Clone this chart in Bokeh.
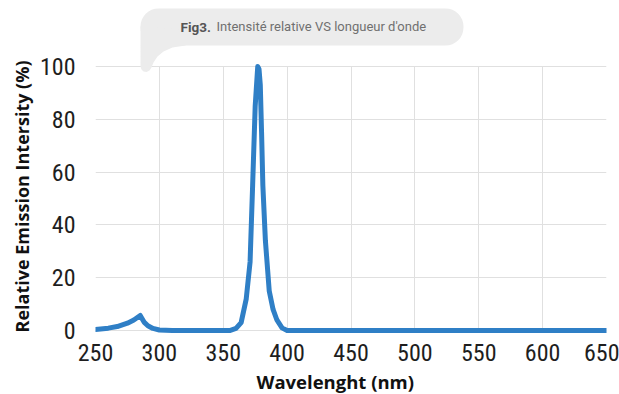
from bokeh.plotting import figure
from bokeh.models import (Range1d, FixedTicker, BoxAnnotation, PolyAnnotation, Label, Title)
from bokeh.embed import file_html
from bokeh.resources import INLINE

# Emission spectrum: wavelength (nm) and relative intensity (%)
wavelength = [250, 260, 267, 275, 280, 285, 288, 291, 295, 300, 310, 330, 355,
              360, 364, 368, 371, 373, 375, 377, 378, 379, 380, 381, 383, 386,
              389, 392, 396, 400, 450, 500, 550, 600, 650]
intensity = [0.4, 0.9, 1.5, 2.8, 4.0, 5.7, 3.2, 1.8, 0.8, 0.2, 0.0, 0.0, 0.0,
             0.8, 3.0, 12.0, 26.0, 55.0, 85.0, 100.0, 99.0, 93.0, 75.0, 55.0, 34.0, 15.0,
             8.0, 4.0, 1.0, 0.0, 0.0, 0.0, 0.0, 0.0, 0.0]

x_ticks = [250, 300, 350, 400, 450, 500, 550, 600, 650]
y_ticks = [0, 20, 40, 60, 80, 100]

title_bold = "Fig3."
title_text = "Intensité relative VS longueur d'onde"
x_label = "Wavelenght (nm)"
y_label = "Relative Emission Intersity (%)"

# The frame reaches the top of the canvas so the caption bubble can sit inside it;
# gridlines stay within 0-100 %.
p = figure(frame_width=511, frame_height=334, output_backend="svg", toolbar_location=None,
           x_range=Range1d(250, 650), y_range=Range1d(-1.5, 125),
           min_border_left=95, min_border_right=13, min_border_top=0,
           min_border_bottom=60)
p.outline_line_color = None
p.background_fill_color = "white"
p.border_fill_color = "white"

tick_font = "Roboto Condensed"
label_font = "Open Sans"

for ax, ticks in ((p.xaxis, x_ticks), (p.yaxis, y_ticks)):
    ax.ticker = FixedTicker(ticks=ticks)
    ax.axis_line_color = None
    ax.major_tick_line_color = None
    ax.minor_tick_line_color = None
    ax.major_label_text_font = tick_font
    ax.major_label_text_font_size = "24px"
    ax.major_label_text_color = "#1e1e1e"

p.xaxis.major_label_standoff = 3
p.yaxis.major_label_standoff = 14

p.xgrid.ticker = FixedTicker(ticks=x_ticks)
p.ygrid.ticker = FixedTicker(ticks=y_ticks)
p.xgrid.cross_bounds = (0, 100)
p.xgrid.grid_line_color = "#e0e0e0"
p.ygrid.grid_line_color = "#e0e0e0"

# Axis titles
p.add_layout(Title(text=x_label, align="left", offset=161, standoff=7,
                   text_font=label_font, text_font_style="bold", text_font_size="18.5px",
                   text_color="#111111"), "below")
p.add_layout(Title(text=y_label, align="left", offset=2, standoff=6,
                   text_font=label_font, text_font_style="bold", text_font_size="18px",
                   text_color="#111111"), "left")

p.line(wavelength, intensity, line_color="#2f7fc6", line_width=5,
       line_join="round", line_cap="round")

# Speech-bubble caption
bubble_fill = "#ececec"
p.add_layout(BoxAnnotation(left=140, right=463, top=8, bottom=45,
                           left_units="canvas", right_units="canvas",
                           top_units="canvas", bottom_units="canvas",
                           fill_color=bubble_fill, fill_alpha=1, line_color=None,
                           border_radius=18, level="underlay"))
tail_x = [140, 140, 141, 143, 146, 149, 151, 153, 157, 163, 172, 185, 185, 150]
tail_y = [26, 66, 69, 71, 71.5, 70, 67, 62, 56, 51, 47, 45, 30, 26]
p.add_layout(PolyAnnotation(xs=tail_x, ys=tail_y, xs_units="canvas", ys_units="canvas",
                            fill_color=bubble_fill, fill_alpha=1, line_color=None,
                            level="underlay"))
p.add_layout(Label(x=180, y=26, x_units="canvas", y_units="canvas", text=title_bold,
                   text_font="Roboto", text_font_style="bold", text_font_size="13.5px",
                   text_color="#555555", text_baseline="middle"))
p.add_layout(Label(x=216, y=26, x_units="canvas", y_units="canvas", text=title_text,
                   text_font="Roboto", text_font_size="13px",
                   text_color="#707070", text_baseline="middle"))

open("out.html", "w").write(file_html(p, INLINE))
